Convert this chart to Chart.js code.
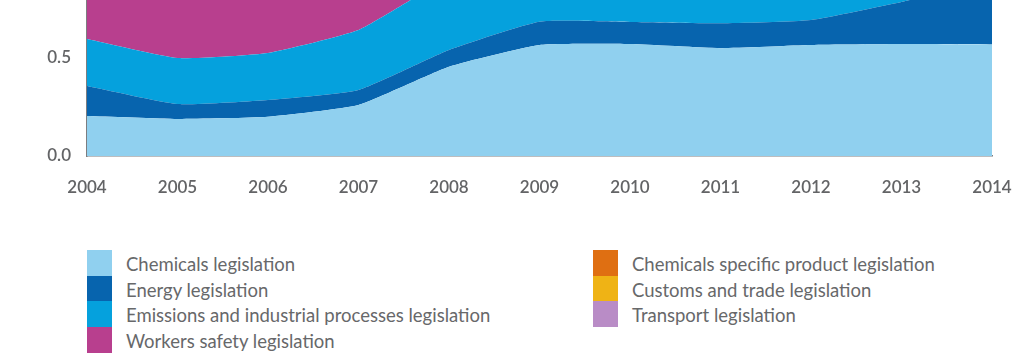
<!DOCTYPE html>
<html>
<head>
<meta charset="utf-8">
<script src="https://cdn.jsdelivr.net/npm/chart.js@4"></script>
<style>
  html, body { margin: 0; padding: 0; background: #fff; }
  #page { position: relative; width: 1024px; height: 353px; overflow: hidden; background: #fff; }
  #plot { position: absolute; left: 0; top: -80px; width: 1024px; height: 280px; }
  .leg-col { position: absolute; top: 250px; }
  .leg-row { position: relative; height: 25.7px; font-family: Lato, sans-serif; font-size: 18.5px; color: #67686a; white-space: nowrap; }
  .leg-sw { position: absolute; left: 0; top: 0; width: 25px; height: 25.7px; }
  .leg-tx { position: absolute; left: 39px; top: 2px; line-height: 25.7px; }
</style>
</head>
<body>
<div id="page">
  <div id="plot"><canvas id="areaChart"></canvas></div>
  <div class="leg-col" id="legLeft" style="left:87px"></div>
  <div class="leg-col" id="legRight" style="left:593px"></div>
</div>
<script>
// Share of legislation by year (stacked, bottom to top)
const years = ["2004", "2005", "2006", "2007", "2008", "2009", "2010", "2011", "2012", "2013", "2014"];
const chemicals      = [0.204, 0.189, 0.200, 0.260, 0.455, 0.566, 0.571, 0.550, 0.566, 0.571, 0.569];
const energy         = [0.153, 0.076, 0.086, 0.077, 0.086, 0.119, 0.113, 0.127, 0.128, 0.215, 0.320];
const emissions      = [0.240, 0.235, 0.240, 0.306, 0.360, 0.250, 0.240, 0.220, 0.200, 0.120, 0.050];
const workersSafety  = [0.300, 0.400, 0.370, 0.250, 0.062, 0.020, 0.020, 0.030, 0.020, 0.020, 0.020];
const chemProduct    = [0.050, 0.050, 0.050, 0.050, 0.020, 0.020, 0.030, 0.040, 0.050, 0.040, 0.020];
const customsTrade   = [0.030, 0.030, 0.030, 0.035, 0.010, 0.015, 0.016, 0.020, 0.020, 0.020, 0.010];
const transport      = [0.023, 0.020, 0.024, 0.022, 0.007, 0.010, 0.010, 0.013, 0.016, 0.014, 0.011];
const yTicks = [0, 0.5, 1];

const series = [
    { label: "Chemicals legislation", data: chemicals, color: "#90d0ef" },
    { label: "Energy legislation", data: energy, color: "#0764ae" },
    { label: "Emissions and industrial processes legislation", data: emissions, color: "#05a1dd" },
    { label: "Workers safety legislation", data: workersSafety, color: "#b83f8e" },
    { label: "Chemicals specific product legislation", data: chemProduct, color: "#df6f12" },
    { label: "Customs and trade legislation", data: customsTrade, color: "#efb315" },
    { label: "Transport legislation", data: transport, color: "#b98cc6" }
];

const tickColor = '#636466';
const tickFont = { family: 'Lato, sans-serif', size: 17, weight: '600' };

var ctx = document.getElementById("areaChart");
var areaChart = new Chart(ctx, {
    type: 'line',
    data: {
        labels: years,
        datasets: series.map((s, i) => ({
            label: s.label,
            data: s.data,
            backgroundColor: s.color,
            borderColor: s.color,
            borderWidth: 0,
            pointRadius: 0,
            tension: 0.15,
            fill: i === 0 ? 'origin' : '-1'
        }))
    },
    options: {
        responsive: true,
        maintainAspectRatio: false,
        animation: false,
        layout: {
            padding: { top: 40, right: 32, bottom: 0, left: 0 }
        },
        scales: {
            x: {
                offset: false,
                grid: { display: false, drawTicks: false },
                border: { display: true, color: '#7c7d80', width: 1.5 },
                ticks: { color: tickColor, font: tickFont, padding: 21, maxRotation: 0 },
                afterFit: function (scale) {
                    scale.height = 44;
                    // let layout padding decide the horizontal margins
                    scale.paddingLeft = 0;
                    scale.paddingRight = 0;
                }
            },
            y: {
                stacked: true,
                min: 0,
                max: 1,
                grid: { display: false, drawTicks: false },
                border: { display: true, color: '#7c7d80', width: 1.5 },
                afterBuildTicks: function (scale) {
                    scale.ticks = yTicks.map(v => ({ value: v }));
                },
                ticks: {
                    color: tickColor,
                    font: tickFont,
                    padding: 16,
                    callback: function (value) { return value.toFixed(1); }
                },
                afterFit: function (scale) { scale.width = 87; }
            }
        },
        plugins: {
            legend: { display: false },
            tooltip: { enabled: false }
        }
    }
});

// Legend: two columns of stacked swatches
function buildLegend() {
    const left = document.getElementById('legLeft');
    const right = document.getElementById('legRight');
    series.forEach((s, i) => {
        const row = document.createElement('div');
        row.className = 'leg-row';
        const sw = document.createElement('div');
        sw.className = 'leg-sw';
        sw.style.background = s.color;
        const tx = document.createElement('span');
        tx.className = 'leg-tx';
        tx.textContent = s.label;
        row.appendChild(sw);
        row.appendChild(tx);
        (i < 4 ? left : right).appendChild(row);
    });
}
buildLegend();
</script>
</body>
</html>
